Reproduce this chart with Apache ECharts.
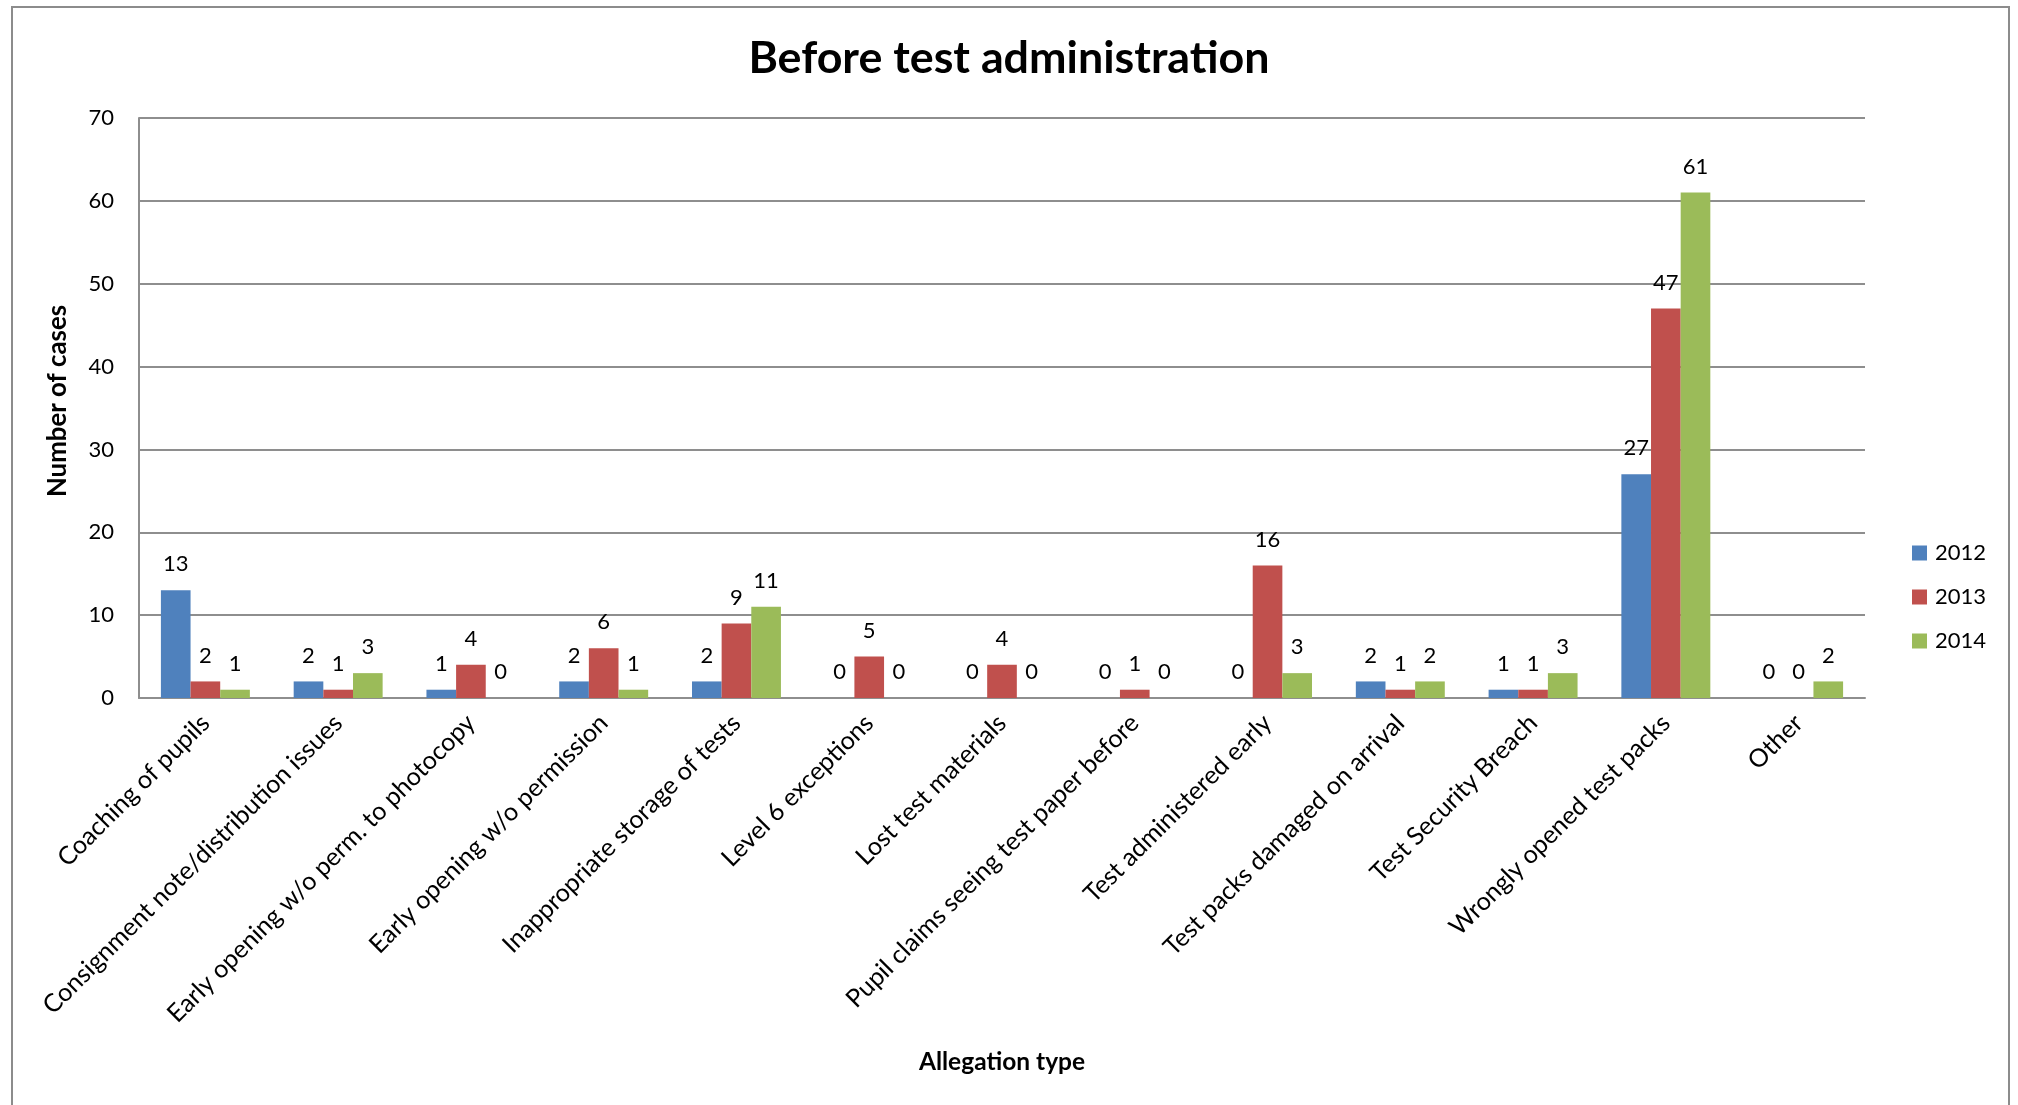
<!DOCTYPE html>
<html>
<head>
<meta charset="utf-8">
<style>
html,body{margin:0;padding:0;background:#fff;}
#chart{width:2018px;height:1105px;}
</style>
<script src="https://cdn.jsdelivr.net/npm/echarts@6/dist/echarts.min.js"></script>
</head>
<body>
<div id="chart"></div>
<script>
// ---- data ----
const categories = [
  'Coaching of pupils',
  'Consignment note/distribution issues',
  'Early opening w/o perm. to photocopy',
  'Early opening w/o permission',
  'Inappropriate storage of tests',
  'Level 6 exceptions',
  'Lost test materials',
  'Pupil claims seeing test paper before',
  'Test administered early',
  'Test packs damaged on arrival',
  'Test Security Breach',
  'Wrongly opened test packs',
  'Other'
];
const values2012 = [13, 2, 1, 2, 2, 0, 0, 0, 0, 2, 1, 27, 0];
const values2013 = [2, 1, 4, 6, 9, 5, 4, 1, 16, 1, 1, 47, 0];
const values2014 = [1, 3, 0, 1, 11, 0, 0, 0, 3, 2, 3, 61, 2];
const seriesNames = ['2012', '2013', '2014'];
const yTicks = [0, 10, 20, 30, 40, 50, 60, 70];

// ---- font fitting helper ----
const FAMILY = 'Lato, "Open Sans", sans-serif';
const ctx = document.createElement('canvas').getContext('2d');
function fit(text, weight, target) {
  ctx.font = weight + ' 100px ' + FAMILY;
  const w = ctx.measureText(text).width;
  return Math.round(target / w * 1000) / 10;
}
const titleSize = fit('Before test administration', 'bold', 521);
const nameSize = fit('Allegation type', 'bold', 166);
const yNameSize = fit('Number of cases', 'bold', 192);
const catSize = fit('Wrongly opened test packs', 'normal', 300);
const numSize = fit('2012', 'normal', 51);

const colors = ['#4F81BD', '#C0504D', '#9BBB59'];
const gridColor = '#8e8e8e';

const chart = echarts.init(document.getElementById('chart'));
const seriesData = [values2012, values2013, values2014];

chart.setOption({
  animation: false,
  backgroundColor: '#fff',
  color: colors,
  textStyle: { fontFamily: FAMILY, color: '#000' },
  title: {
    text: 'Before test administration',
    left: 'center',
    top: 31,
    textStyle: { fontFamily: FAMILY, fontWeight: 'bold', fontSize: titleSize, color: '#000' }
  },
  legend: {
    orient: 'vertical',
    left: 1907,
    top: 537,
    itemWidth: 15,
    itemHeight: 15,
    itemGap: 22,
    icon: 'rect',
    data: seriesNames,
    textStyle: { fontFamily: FAMILY, fontSize: numSize, color: '#000', padding: [0, 0, 0, 3] }
  },
  grid: { left: 139, right: 153, top: 118, bottom: 407, containLabel: false },
  xAxis: {
    type: 'category',
    data: categories,
    name: 'Allegation type',
    nameLocation: 'middle',
    nameGap: 352,
    nameTextStyle: { fontFamily: FAMILY, fontWeight: 'bold', fontSize: nameSize, color: '#000' },
    axisLine: { show: true, lineStyle: { color: gridColor, width: 2 } },
    axisTick: { show: false },
    axisLabel: {
      interval: 0,
      rotate: 45,
      margin: 21,
      fontFamily: FAMILY,
      fontSize: catSize,
      color: '#000'
    },
    splitLine: { show: false }
  },
  yAxis: {
    type: 'value',
    min: yTicks[0],
    max: yTicks[yTicks.length - 1],
    interval: yTicks[1] - yTicks[0],
    name: 'Number of cases',
    nameLocation: 'middle',
    nameRotate: 90,
    nameGap: 68,
    nameTextStyle: { fontFamily: FAMILY, fontWeight: 'bold', fontSize: yNameSize, color: '#000', padding: [0, 0, 0, 14] },
    axisLine: { show: true, lineStyle: { color: gridColor, width: 2 } },
    axisTick: { show: false },
    axisLabel: { margin: 25, fontFamily: FAMILY, fontSize: numSize, color: '#000' },
    splitLine: { show: true, lineStyle: { color: gridColor, width: 2 } }
  },
  graphic: [{
    type: 'rect',
    shape: { x: 12, y: 7, width: 1997, height: 1110 },
    style: { fill: 'none', stroke: '#8c8c8c', lineWidth: 2 },
    silent: true,
    z: 100
  }],
  series: seriesNames.map((n, i) => ({
    name: n,
    type: 'bar',
    data: seriesData[i],
    barGap: '0%',
    barCategoryGap: '33%',
    itemStyle: { color: colors[i] },
    label: {
      show: true,
      position: 'top',
      distance: 15,
      fontFamily: FAMILY,
      fontSize: numSize,
      color: '#000'
    }
  }))
});
</script>
</body>
</html>
